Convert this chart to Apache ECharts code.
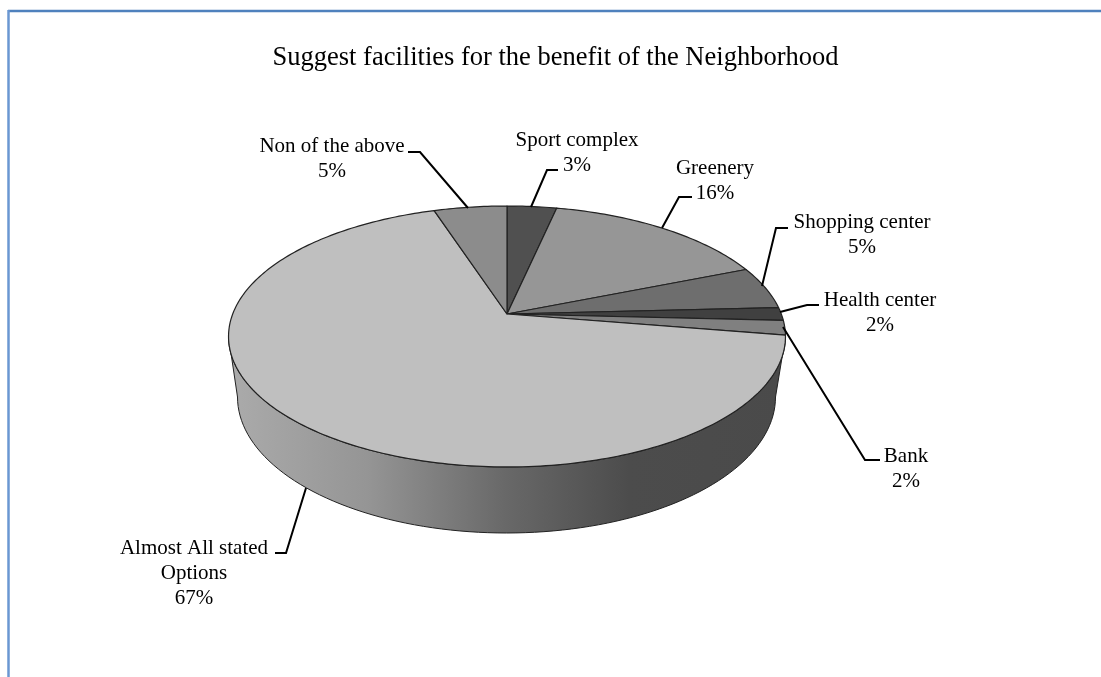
<!DOCTYPE html>
<html>
<head>
<meta charset="utf-8">
<style>html,body{margin:0;padding:0;background:#fff}#c{width:1101px;height:677px}</style>
<script src="https://cdn.jsdelivr.net/npm/echarts@6/dist/echarts.min.js"></script>
</head>
<body>
<div id="c"></div>
<script>
const titleText = 'Suggest facilities for the benefit of the Neighborhood';
const categories = ['Sport complex', 'Greenery', 'Shopping center', 'Health center', 'Bank', 'Almost All stated\nOptions', 'Non of the above'];
const values = [3.4, 15.5, 5.3, 1.6, 1.8, 67.4, 5.0];
const colors = ['#505050', '#969696', '#6e6e6e', '#404040', '#808080', '#bfbfbf', '#8c8c8c'];
const labelX = [577, 715, 862, 880, 906, 194, 332];
const labelTop = [128, 156, 210, 288, 444, 536, 134];
const leaders = [
  [[531,207],[547,170],[558,170]],
  [[662,228],[679,197],[692,197]],
  [[762,286],[776,228],[788,228]],
  [[780,312],[807,305],[819,305]],
  [[783,327],[865,460],[880,460]],
  [[306,488],[286,553],[275,553]],
  [[468,208],[420,152],[408,152]]
];

const FONT = '"Liberation Serif","Times New Roman",serif';
const total = values.reduce((a, b) => a + b, 0);
let acc = 0;
const sliceData = values.map((v, i) => { const s = acc; acc += v; return [s / total, acc / total, i]; });

// perspective projection of the pie's top disc
const AP = { x: 507, y: 314, a: 274.3, b: 126.6, k: 0.1724 };
function rim(frac) {
  const t = frac * 2 * Math.PI, u = Math.sin(t), v = Math.cos(t), w = 1 + AP.k * v;
  return [AP.x + AP.a * u / w, AP.y - AP.b * v / w];
}
const TOP = { x: 507, y: 336.5, rx: 278.5, ry: 130.5 };
const BOT = { x: 506.5, y: 397, rx: 269, ry: 136 };
function wallPoints() {
  const pts = [];
  for (let d = 0; d <= 180; d += 2) {
    const t = d * Math.PI / 180;
    pts.push([TOP.x + TOP.rx * Math.cos(t), TOP.y + TOP.ry * Math.sin(t)]);
  }
  for (let d = 180; d >= 0; d -= 2) {
    const t = d * Math.PI / 180;
    pts.push([BOT.x + BOT.rx * Math.cos(t), BOT.y + BOT.ry * Math.sin(t)]);
  }
  return pts;
}

const chart = echarts.init(document.getElementById('c'), null, { renderer: 'canvas' });
chart.setOption({
  animation: false,
  backgroundColor: '#ffffff',
  title: {
    text: titleText, left: 550.5, top: 40, textAlign: 'center',
    textStyle: { fontFamily: FONT, fontSize: 26.5, fontWeight: 'normal', color: '#000' }
  },
  graphic: [
    { type: 'line', silent: true, shape: { x1: 8, y1: 11, x2: 1101, y2: 11 }, style: { stroke: '#4f81bd', lineWidth: 2.5 } },
    { type: 'line', silent: true, shape: { x1: 8.5, y1: 10, x2: 8.5, y2: 677 }, style: { stroke: '#6a97d2', lineWidth: 2.5 } }
  ],
  series: [
    {
      type: 'custom', coordinateSystem: 'none', silent: true, z: 1,
      data: [[0]],
      renderItem: function () {
        return {
          type: 'polygon',
          shape: { points: wallPoints() },
          style: {
            stroke: '#222', lineWidth: 1,
            fill: new echarts.graphic.LinearGradient(228, 0, 785, 0, [
              { offset: 0, color: '#ababab' },
              { offset: 0.25, color: '#959595' },
              { offset: 0.5, color: '#686868' },
              { offset: 0.72, color: '#4c4c4c' },
              { offset: 1, color: '#4a4a4a' }
            ], true)
          }
        };
      }
    },
    {
      type: 'custom', coordinateSystem: 'none', silent: true, z: 2,
      data: sliceData,
      renderItem: function (params, api) {
        const s = api.value(0), e = api.value(1), i = api.value(2);
        const pts = [[AP.x, AP.y]];
        const n = Math.max(2, Math.ceil((e - s) * 360));
        for (let j = 0; j <= n; j++) pts.push(rim(s + (e - s) * j / n));
        return {
          type: 'polygon',
          shape: { points: pts },
          style: { fill: colors[i], stroke: '#222', lineWidth: 1.2, lineJoin: 'round' }
        };
      }
    },
    {
      type: 'custom', coordinateSystem: 'none', silent: true, z: 3,
      data: values.map((v, i) => [v, i]),
      renderItem: function (params, api) {
        const i = api.value(1), pct = Math.round(api.value(0) / total * 100) + '%';
        return {
          type: 'group',
          children: [
            { type: 'polyline', shape: { points: leaders[i] }, style: { fill: null, stroke: '#000', lineWidth: 2 } },
            { type: 'text', x: labelX[i], y: labelTop[i],
              style: { text: categories[i] + '\n' + pct, font: '21px ' + FONT, fill: '#000', align: 'center', verticalAlign: 'top', lineHeight: 25 } }
          ]
        };
      }
    }
  ]
});
</script>
</body>
</html>
